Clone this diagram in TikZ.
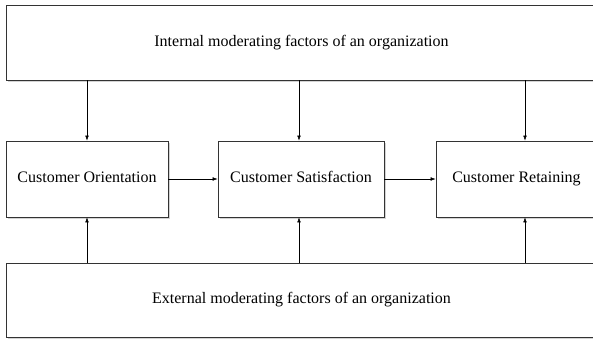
\documentclass[tikz,border=0pt]{standalone}
\usepackage{fontspec}
\setmainfont{Liberation Serif}
\usetikzlibrary{positioning,shadows,arrows.meta}
\tikzset{>={Latex[length=5pt,width=3.6pt]}}
\tikzset{factorbox/.style={draw=black!80, fill=white, line width=0.8pt, inner sep=0pt,
    drop shadow={shadow xshift=1.8pt, shadow yshift=-1.8pt, opacity=0.35},
    text height=11pt, text depth=3.5pt,
    font=\fontsize{16}{19}\selectfont}}

\begin{document}
\begin{tikzpicture}[x=1pt,y=-1pt]
    \path[use as bounding box, clip] (0,0) rectangle (593,339);
    % moderating factors
    \node[factorbox, minimum width=591pt, minimum height=75pt] (internal) at (301.5,42.5) {Internal moderating factors of an organization};
    \node[factorbox, minimum width=591pt, minimum height=74pt] (external) at (301.5,300) {External moderating factors of an organization};
    % chain
    \node[factorbox, minimum width=162pt, minimum height=76pt] (orient) at (87,179) {Customer Orientation};
    \node[factorbox, minimum width=166pt, minimum height=76pt] (satis) at (301,179) {Customer Satisfaction};
    \node[factorbox, minimum width=161pt, minimum height=76pt] (retain) at (516.5,179) {Customer Retaining};
    \draw[->] (orient) -- (satis);
    \draw[->] (satis) -- (retain);
    \foreach \n/\dx in {orient/0pt,satis/-2pt,retain/8.5pt} {
        \coordinate (\n-in) at ([xshift=\dx]\n.north);
        \coordinate (\n-out) at ([xshift=\dx]\n.south);
        \draw[->] (internal.south -| \n-in) -- (\n-in);
        \draw[->] (external.north -| \n-out) -- (\n-out);
    }
\end{tikzpicture}
\end{document}
